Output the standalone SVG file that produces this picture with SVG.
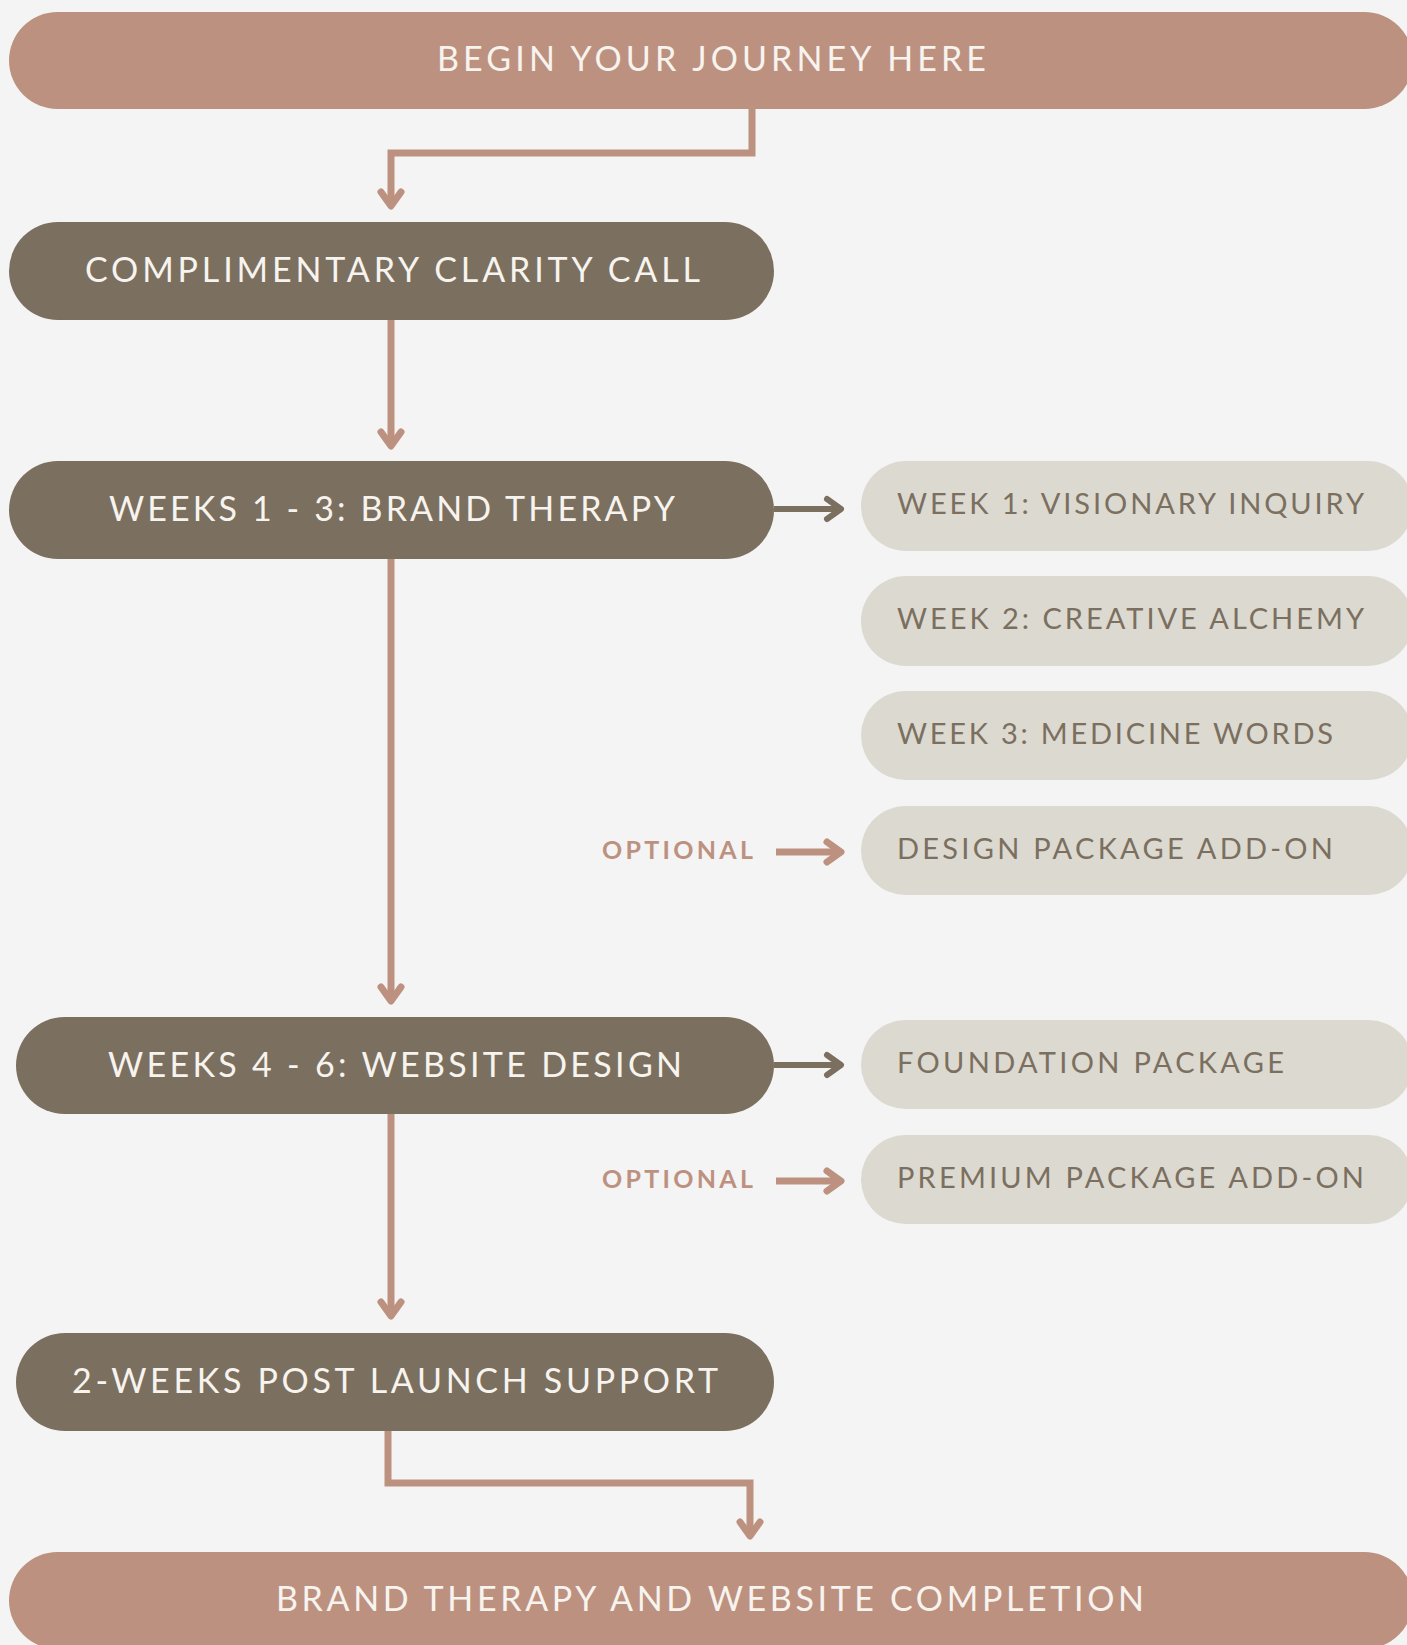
<svg xmlns="http://www.w3.org/2000/svg" width="1407" height="1645" viewBox="0 0 1407 1645">
  <style>
    .rose { fill: #bd917f; }
    .dark { fill: #7b6f5f; }
    .light { fill: #dcd9d0; }
    .t-main { font-family: Lato, "Noto Sans", sans-serif; font-size: 34px; fill: #f7f3ee; font-weight: 400; }
    .t-sub { font-family: Lato, "Noto Sans", sans-serif; font-size: 29px; fill: #7b6f5f; font-weight: 400; }
    .t-opt { font-family: Lato, "Noto Sans", sans-serif; font-size: 25px; fill: #bd917f; font-weight: 700; }
    .c-rose { fill: none; stroke: #bd917f; stroke-width: 7; stroke-linejoin: miter; }
    .c-dark { fill: none; stroke: #7b6f5f; stroke-width: 6; }
  </style>
  <defs>
    <marker id="ah-rose" markerUnits="userSpaceOnUse" orient="auto" markerWidth="40" markerHeight="40" refX="0" refY="0" viewBox="-20 -20 40 40" overflow="visible">
      <path d="M-14,-10 L0,0 L-14,10" fill="none" stroke="#bd917f" stroke-width="7" stroke-linecap="round" stroke-linejoin="round"/>
    </marker>
    <marker id="ah-dark" markerUnits="userSpaceOnUse" orient="auto" markerWidth="40" markerHeight="40" refX="0" refY="0" viewBox="-20 -20 40 40" overflow="visible">
      <path d="M-14,-10 L0,0 L-14,10" fill="none" stroke="#7b6f5f" stroke-width="6" stroke-linecap="round" stroke-linejoin="round"/>
    </marker>
  </defs>
  <rect width="1407" height="1645" fill="#f4f4f4"/>

  <g id="connectors">
    <path class="c-rose" d="M752,109 V153 H391 V206" marker-end="url(#ah-rose)"/>
    <path class="c-rose" d="M391,320 V446" marker-end="url(#ah-rose)"/>
    <path class="c-rose" d="M391,559 V1001" marker-end="url(#ah-rose)"/>
    <path class="c-rose" d="M391,1114 V1316" marker-end="url(#ah-rose)"/>
    <path class="c-rose" d="M388,1431 V1483 H750 V1536" marker-end="url(#ah-rose)"/>
    <path class="c-dark" d="M774,509 H841" marker-end="url(#ah-dark)"/>
    <path class="c-dark" d="M774,1065 H841" marker-end="url(#ah-dark)"/>
    <path class="c-rose" d="M776,852 H841" marker-end="url(#ah-rose)"/>
    <path class="c-rose" d="M776,1181 H841" marker-end="url(#ah-rose)"/>
  </g>

  <g id="node-begin">
    <rect class="rose" x="9" y="12" width="1404" height="97" rx="48.5"/>
    <text class="t-main" x="437" y="71" textLength="549" lengthAdjust="spacing">BEGIN YOUR JOURNEY HERE</text>
  </g>
  <g id="node-clarity">
    <rect class="dark" x="9" y="222" width="765" height="98" rx="49"/>
    <text class="t-main" x="85" y="282" textLength="615" lengthAdjust="spacing">COMPLIMENTARY CLARITY CALL</text>
  </g>
  <g id="node-brand">
    <rect class="dark" x="9" y="461" width="765" height="98" rx="49"/>
    <text class="t-main" x="109" y="521" textLength="566" lengthAdjust="spacing">WEEKS 1 - 3: BRAND THERAPY</text>
  </g>
  <g id="node-week1">
    <rect class="light" x="861" y="461" width="552" height="90" rx="45"/>
    <text class="t-sub" x="897" y="514" textLength="467" lengthAdjust="spacing">WEEK 1: VISIONARY INQUIRY</text>
  </g>
  <g id="node-week2">
    <rect class="light" x="861" y="576" width="552" height="90" rx="45"/>
    <text class="t-sub" x="897" y="629" textLength="467" lengthAdjust="spacing">WEEK 2: CREATIVE ALCHEMY</text>
  </g>
  <g id="node-week3">
    <rect class="light" x="861" y="691" width="552" height="89" rx="44.5"/>
    <text class="t-sub" x="897" y="744" textLength="436" lengthAdjust="spacing">WEEK 3: MEDICINE WORDS</text>
  </g>
  <g id="node-design">
    <rect class="light" x="861" y="806" width="552" height="89" rx="44.5"/>
    <text class="t-sub" x="897" y="859" textLength="436" lengthAdjust="spacing">DESIGN PACKAGE ADD-ON</text>
  </g>
  <g id="label-optional-1">
    <text class="t-opt" x="602" y="859" textLength="151" lengthAdjust="spacing">OPTIONAL</text>
  </g>
  <g id="node-website">
    <rect class="dark" x="16" y="1017" width="758" height="97" rx="48.5"/>
    <text class="t-main" x="108" y="1077" textLength="574" lengthAdjust="spacing">WEEKS 4 - 6: WEBSITE DESIGN</text>
  </g>
  <g id="node-foundation">
    <rect class="light" x="861" y="1020" width="552" height="89" rx="44.5"/>
    <text class="t-sub" x="897" y="1073" textLength="387" lengthAdjust="spacing">FOUNDATION PACKAGE</text>
  </g>
  <g id="node-premium">
    <rect class="light" x="861" y="1135" width="552" height="89" rx="44.5"/>
    <text class="t-sub" x="897" y="1188" textLength="467" lengthAdjust="spacing">PREMIUM PACKAGE ADD-ON</text>
  </g>
  <g id="label-optional-2">
    <text class="t-opt" x="602" y="1188" textLength="151" lengthAdjust="spacing">OPTIONAL</text>
  </g>
  <g id="node-support">
    <rect class="dark" x="16" y="1333" width="758" height="98" rx="49"/>
    <text class="t-main" x="72" y="1393" textLength="646" lengthAdjust="spacing">2-WEEKS POST LAUNCH SUPPORT</text>
  </g>
  <g id="node-completion">
    <rect class="rose" x="9" y="1552" width="1404" height="97" rx="48.5"/>
    <text class="t-main" x="276" y="1611" textLength="868" lengthAdjust="spacing">BRAND THERAPY AND WEBSITE COMPLETION</text>
  </g>
</svg>
